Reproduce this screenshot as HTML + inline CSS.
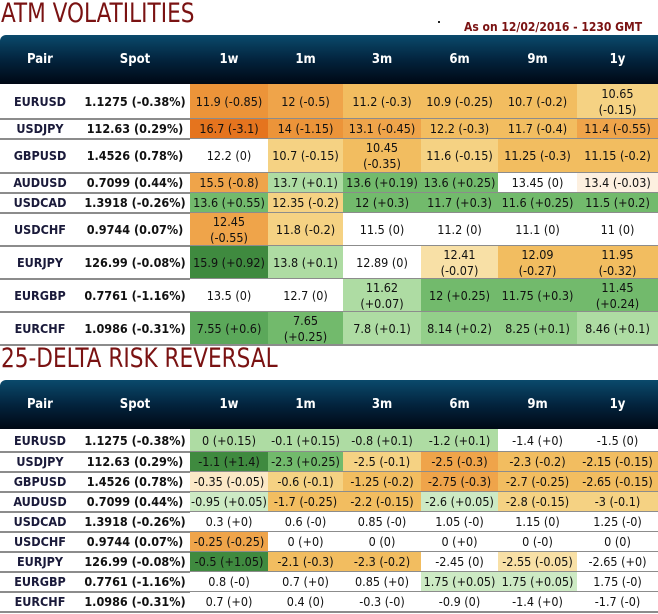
<!DOCTYPE html>
<html><head><meta charset="utf-8">
<style>
body{margin:0;width:658px;height:614px;background:#fff;position:relative;overflow:hidden;font-family:"DejaVu Sans Condensed","Liberation Sans",sans-serif;}
.title{position:absolute;left:1px;font-size:27px;color:#7a1212;font-family:"DejaVu Sans Condensed","Liberation Sans",sans-serif;transform-origin:0 0;transform:scaleX(0.89);}
.sub{position:absolute;left:464px;top:20px;font-size:12px;font-weight:bold;color:#7a1212;}
.hdr{position:absolute;left:0;width:658px;background:linear-gradient(#0a4a6c,#03243e 50%,#000814);border-top-left-radius:6px;}
.hc{position:absolute;top:0;height:100%;display:flex;align-items:center;justify-content:center;color:#fff;font-weight:bold;font-size:13px;}
.cell{position:absolute;display:flex;align-items:center;justify-content:center;text-align:center;font-size:12.5px;color:#111;line-height:16px;box-sizing:border-box;}
.line{position:absolute;left:0;width:658px;height:2px;background:#8c8c8c;}
</style></head><body>
<div class="title" style="top:-2px">ATM VOLATILITIES</div>
<div style="position:absolute;left:438px;top:21px;width:2px;height:2px;background:#222"></div>
<div class="sub">As on 12/02/2016 - 1230 GMT</div>
<div class="title" style="top:343px">25-DELTA RISK REVERSAL</div>
<script>
const colX=[0,80,190,268,343,421,498,577,658];
const headers=["Pair","Spot","1w","1m","3m","6m","9m","1y"];
const pairs=["EURUSD","USDJPY","GBPUSD","AUDUSD","USDCAD","USDCHF","EURJPY","EURGBP","EURCHF"];
const spots=["1.1275 (-0.38%)","112.63 (0.29%)","1.4526 (0.78%)","0.7099 (0.44%)","1.3918 (-0.26%)","0.9744 (0.07%)","126.99 (-0.08%)","0.7761 (-1.16%)","1.0986 (-0.31%)"];
const atm=[
["11.9 (-0.85)","12 (-0.5)","11.2 (-0.3)","10.9 (-0.25)","10.7 (-0.2)","10.65<br>(-0.15)"],
["16.7 (-3.1)","14 (-1.15)","13.1 (-0.45)","12.2 (-0.3)","11.7 (-0.4)","11.4 (-0.55)"],
["12.2 (0)","10.7 (-0.15)","10.45<br>(-0.35)","11.6 (-0.15)","11.25 (-0.3)","11.15 (-0.2)"],
["15.5 (-0.8)","13.7 (+0.1)","13.6 (+0.19)","13.6 (+0.25)","13.45 (0)","13.4 (-0.03)"],
["13.6 (+0.55)","12.35 (-0.2)","12 (+0.3)","11.7 (+0.3)","11.6 (+0.25)","11.5 (+0.2)"],
["12.45<br>(-0.55)","11.8 (-0.2)","11.5 (0)","11.2 (0)","11.1 (0)","11 (0)"],
["15.9 (+0.92)","13.8 (+0.1)","12.89 (0)","12.41<br>(-0.07)","12.09<br>(-0.27)","11.95<br>(-0.32)"],
["13.5 (0)","12.7 (0)","11.62<br>(+0.07)","12 (+0.25)","11.75 (+0.3)","11.45<br>(+0.24)"],
["7.55 (+0.6)","7.65<br>(+0.25)","7.8 (+0.1)","8.14 (+0.2)","8.25 (+0.1)","8.46 (+0.1)"]];
const atmShade=[
["O4","O3","O2","O2","O2","O1"],
["O5","O4","O3","O2","O2","O3"],
["W","O1","O2","O1","O2","O2"],
["O3","G1","G3","G3","W","P"],
["G3","O1","G3","G3","G3","G3"],
["O3","O1","W","W","W","W"],
["G5","G1","W","O0","O2","O2"],
["W","W","G1","G3","G3","G3"],
["G4","G3","G1","G2","G2","G1"]];
const rr=[
["0 (+0.15)","-0.1 (+0.15)","-0.8 (+0.1)","-1.2 (+0.1)","-1.4 (+0)","-1.5 (0)"],
["-1.1 (+1.4)","-2.3 (+0.25)","-2.5 (-0.1)","-2.5 (-0.3)","-2.3 (-0.2)","-2.15 (-0.15)"],
["-0.35 (-0.05)","-0.6 (-0.1)","-1.25 (-0.2)","-2.75 (-0.3)","-2.7 (-0.25)","-2.65 (-0.15)"],
["-0.95 (+0.05)","-1.7 (-0.25)","-2.2 (-0.15)","-2.6 (+0.05)","-2.8 (-0.15)","-3 (-0.1)"],
["0.3 (+0)","0.6 (-0)","0.85 (-0)","1.05 (-0)","1.15 (0)","1.25 (-0)"],
["-0.25 (-0.25)","0 (+0)","0 (0)","0 (+0)","0 (-0)","0 (0)"],
["-0.5 (+1.05)","-2.1 (-0.3)","-2.3 (-0.2)","-2.45 (0)","-2.55 (-0.05)","-2.65 (+0)"],
["0.8 (-0)","0.7 (+0)","0.85 (+0)","1.75 (+0.05)","1.75 (+0.05)","1.75 (-0)"],
["0.7 (+0)","0.4 (0)","-0.3 (-0)","-0.9 (0)","-1.4 (+0)","-1.7 (-0)"]];
const rrShade=[
["G1","G1","G1","G1","W","W"],
["G5","G3","O1","O3","O2","O2"],
["P2","O1","O2","O3","O2","O2"],
["G0","O2","O2","G0","O1","O1"],
["W","W","W","W","W","W"],
["O3","W","W","W","W","W"],
["G5","O2","O2","W","O0","W"],
["W","W","W","G0","G0","W"],
["W","W","W","W","W","W"]];
const palette={W:"#ffffff",P:"#fdf0e0",P2:"#fbe8c6",O0:"#f8e0a6",O1:"#f5d283",O2:"#f2bd60",O3:"#efa44a",O4:"#ec9439",O5:"#e5741e",
G0:"#cdeac4",G1:"#aedca3",G2:"#93cf8a",G3:"#72ba6c",G4:"#5ba85a",G5:"#3f8a3f"};

function build(prefix,top,hdrH,heights,vals,shades){
  const h=document.createElement('div');
  
  
  h.className='hdr';h.style.top=top+'px';h.style.height=hdrH+'px';
  headers.forEach((t,i)=>{
    const c=document.createElement('div');
    
    
    c.className='hc';c.style.left=colX[i]+'px';c.style.width=(colX[i+1]-colX[i])+'px';c.textContent=t;
    h.appendChild(c);
  });
  document.body.appendChild(h);
  let y=top+hdrH;
  pairs.forEach((p,r)=>{
    const hh=heights[r];
    const cells=[p,spots[r]].concat(vals[r]);
    cells.forEach((t,i)=>{
      const c=document.createElement('div');
      
      
      c.className='cell';
      c.style.left=colX[i]+'px';c.style.width=(colX[i+1]-colX[i])+'px';
      c.style.top=y+'px';c.style.height=hh+'px';
      if(i>=2)c.style.background=palette[shades[r][i-2]];
      if(i<2)c.style.fontWeight='bold';
      if(i===0)c.style.color='#1a1a3a';
      c.innerHTML=t;
      document.body.appendChild(c);
    });
    y+=hh;
    const l=document.createElement('div');
    
    
    l.className='line';l.style.top=(y-1)+'px';
    document.body.appendChild(l);
  });
}
build('atm',35,49,[35,20,34,20,20,33,33,33,33],atm,atmShade);
build('rr',380,49,[23,20,20,20,20,20,20,20,20],rr,rrShade);
</script>
</body></html>
